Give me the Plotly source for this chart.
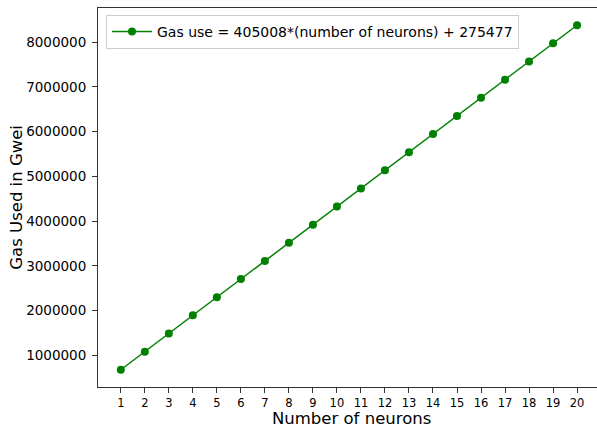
import plotly.graph_objects as go

neurons = list(range(1, 21))
gas_used = [680485, 1085493, 1490501, 1895509, 2300517, 2705525, 3110533,
            3515541, 3920549, 4325557, 4730565, 5135573, 5540581, 5945589,
            6350597, 6755605, 7160613, 7565621, 7970629, 8375637]
y_ticks = [1000000, 2000000, 3000000, 4000000, 5000000, 6000000, 7000000, 8000000]
legend_label = "Gas use = 405008*(number of neurons) + 275477"
x_title = "Number of neurons"
y_title = "Gas Used in Gwei"

fig = go.Figure()
fig.add_trace(go.Scatter(
    x=neurons, y=gas_used, mode="lines+markers", name=legend_label,
    line=dict(color="#008000", width=1.5),
    marker=dict(color="#008000", size=8),
    showlegend=True,
))

font = "DejaVu Sans, sans-serif"
fig.update_layout(
    width=597, height=427,
    margin=dict(l=98, r=0, t=8, b=40),
    paper_bgcolor="white", plot_bgcolor="white",
    font=dict(family=font, color="black"),
    showlegend=True,
    legend=dict(x=0.016, y=0.982, xanchor="left", yanchor="top",
                bgcolor="rgba(255,255,255,0.8)", bordercolor="#cccccc", borderwidth=1,
                font=dict(size=14, family=font), itemwidth=40,
                tracegroupgap=0),
    xaxis=dict(
        range=[0.05, 20.83], tickmode="array", tickvals=neurons,
        ticktext=[str(n) for n in neurons],
        ticks="outside", ticklen=5, tickwidth=1, tickcolor="#333333",
        showline=True, linecolor="#333333", linewidth=1, mirror=True,
        showgrid=False, zeroline=False,
        tickfont=dict(size=11.5, family=font),
    ),
    yaxis=dict(
        range=[295727, 8760395], tickmode="array", tickvals=y_ticks,
        ticktext=[str(v) for v in y_ticks],
        ticks="outside", ticklen=5, tickwidth=1, tickcolor="#333333",
        showline=True, linecolor="#333333", linewidth=1, mirror=True,
        showgrid=False, zeroline=False, ticklabelstandoff=3,
        tickfont=dict(size=13.5, family=font),
    ),
    annotations=[
        dict(text=x_title, xref="paper", yref="paper", x=0.509, y=-0.053,
             xanchor="center", yanchor="top", showarrow=False,
             font=dict(size=16.5, family=font)),
        dict(text=y_title, xref="paper", yref="paper", x=-0.164, y=0.5,
             xanchor="center", yanchor="middle", textangle=-90, showarrow=False,
             font=dict(size=16.5, family=font)),
    ],
)

fig.write_html("out.html")
